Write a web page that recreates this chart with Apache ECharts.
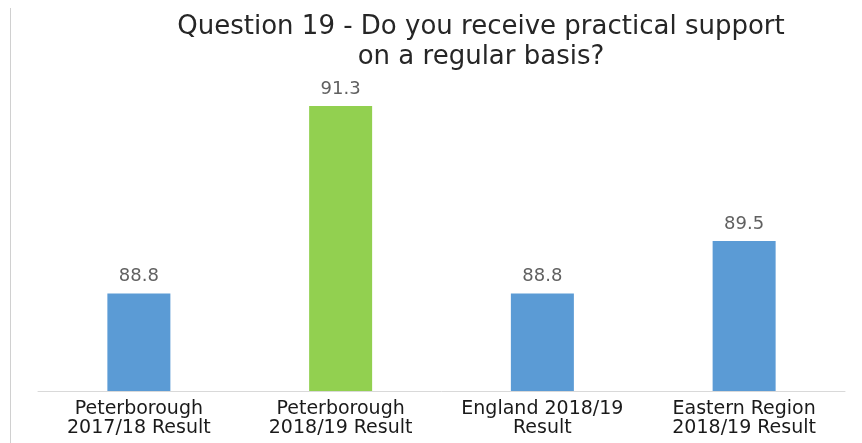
<!DOCTYPE html>
<html>
<head>
<meta charset="utf-8">
<script src="https://cdn.jsdelivr.net/npm/echarts@6/dist/echarts.min.js"></script>
<style>
  html, body { margin: 0; padding: 0; background: #fff; }
  #chart { width: 862px; height: 443px; }
</style>
</head>
<body>
<div id="chart"></div>
<script>
// question title, two lines
const titleText = 'Question 19 - Do you receive practical support\non a regular basis?';

const categories = [
  'Peterborough\n2017/18 Result',
  'Peterborough\n2018/19 Result',
  'England 2018/19\nResult',
  'Eastern Region\n2018/19 Result'
];
const results = [88.8, 91.3, 88.8, 89.5];
const highlighted = 'Peterborough\n2018/19 Result';

const myChart = echarts.init(document.getElementById('chart'));

const option = {
  animation: false,
  backgroundColor: '#fff',
  title: {
    text: titleText,
    left: 481,
    top: 12,
    padding: 0,
    textAlign: 'center',
    textStyle: {
      fontFamily: 'DejaVu Sans',
      fontWeight: 'normal',
      fontSize: 26,
      lineHeight: 30,
      color: '#262626'
    }
  },
  graphic: [{
    type: 'line',
    shape: { x1: 10.5, y1: 8, x2: 10.5, y2: 443 },
    style: { stroke: '#d0d0d0', lineWidth: 1 }
  }],
  grid: {
    left: 38,
    right: 17,
    top: 53.5,
    bottom: 52,
    containLabel: false
  },
  xAxis: {
    type: 'category',
    data: categories,
    axisTick: { show: false },
    axisLine: {
      lineStyle: { color: '#d9d9d9', width: 1 }
    },
    axisLabel: {
      interval: 0,
      margin: 9,
      fontFamily: 'DejaVu Sans',
      fontSize: 19,
      lineHeight: 19,
      color: '#1a1a1a'
    }
  },
  yAxis: {
    type: 'value',
    min: 87.5,
    max: 92,
    show: false,
    splitLine: { show: false }
  },
  series: [{
    type: 'bar',
    data: results,
    barWidth: 63,
    itemStyle: {
      color: function (params) {
        return categories[params.dataIndex] === highlighted ? '#92d050' : '#5b9bd5';
      }
    },
    label: {
      show: true,
      position: 'top',
      distance: 8,
      fontFamily: 'DejaVu Sans',
      fontSize: 18,
      color: '#606060',
      formatter: function (p) {
        return p.value.toFixed(1);
      }
    }
  }]
};

myChart.setOption(option);
</script>
</body>
</html>
